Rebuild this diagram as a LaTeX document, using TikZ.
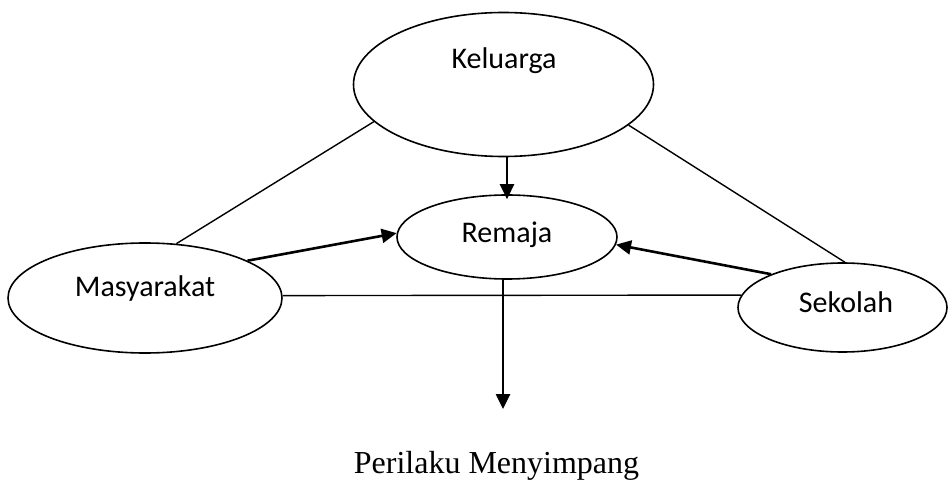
\documentclass[tikz,border=0pt]{standalone}
\usepackage{fontspec}
\setmainfont{Liberation Serif}
\newfontfamily\labelfont{Carlito}
\usetikzlibrary{shapes.geometric,arrows.meta}
\tikzset{
  oval/.style={ellipse, draw, line width=1.6pt, inner sep=0pt},
  lbl/.style={font=\labelfont\fontsize{30}{35}\selectfont, anchor=base, inner sep=0pt},
  conn/.style={line width=1.4pt},
  arr/.style={line width=2.6pt, -{Triangle[length=15pt,width=14pt]}}
}
\begin{document}
\begin{tikzpicture}[x=1pt,y=-1pt]
\useasboundingbox (0,0) rectangle (948,481);
\node[oval, minimum width=300pt, minimum height=144pt] (K) at (503.5,84.5) {};
\node[oval, minimum width=220pt, minimum height=84pt] (R) at (507,237) {};
\node[oval, minimum width=274pt, minimum height=110pt] (M) at (145,298) {};
\node[oval, minimum width=209pt, minimum height=89pt] (S) at (842.5,307.5) {};
\node[lbl] (Kt) at (504,69) {Keluarga};
\node[lbl] (Rt) at (507,243) {Remaja};
\node[lbl] (Mt) at (145,296) {Masyarakat};
\node[lbl] (St) at (846,312) {Sekolah};
\coordinate (P) at (503,409);
\node[font=\fontsize{32}{37}\selectfont, anchor=base, inner sep=0pt] (PM) at (496.5,473) {Perilaku Menyimpang};
\draw[conn] (K.196.7) -- (M.60.6);
\draw[conn] (K.342.7) -- (S.87.3);
\draw[conn] (M.1.3) -- (S.173.1);
\draw[arr] (K.south -| R.north) -- ([yshift=-5pt]R.north);
\draw[arr] (M.20.8) -- (R.178);
\draw[arr] (S.155.3) -- (R.356.9);
\draw[arr] (R.south -| P) -- (P);
\end{tikzpicture}
\end{document}
